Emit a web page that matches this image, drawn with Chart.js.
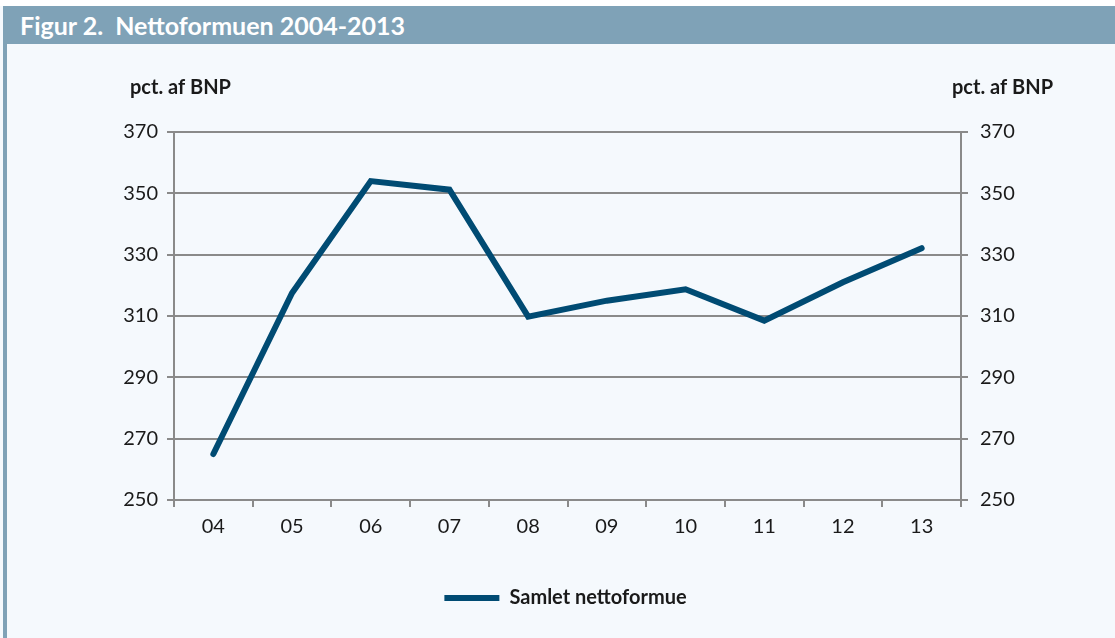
<!DOCTYPE html>
<html>
<head>
<meta charset="utf-8">
<script src="https://cdn.jsdelivr.net/npm/chart.js@4.4.1/dist/chart.umd.min.js"></script>
<style>
  html, body { margin: 0; padding: 0; }
  body { width: 1115px; height: 638px; background: #f5f9fd; position: relative; overflow: hidden; }
  #topStrip { position: absolute; left: 0; top: 0; width: 1115px; height: 6px; background: #ffffff; }
  #header {
    position: absolute; left: 3px; top: 6px; width: 1112px; height: 38px;
    background: #7fa2b7; color: #ffffff;
    font-family: Lato, sans-serif; font-weight: bold; font-size: 25px;
    line-height: 38px; padding-left: 17px; box-sizing: border-box; white-space: pre;
  }
  #leftBar { position: absolute; left: 3px; top: 44px; width: 4px; height: 594px; background: #7fa2b7; }
  #wrap { position: absolute; left: 0; top: 0; width: 1115px; height: 638px; }
</style>
</head>
<body>
<div id="topStrip"></div>
<div id="header">Figur 2.  Nettoformuen 2004-2013</div>
<div id="leftBar"></div>
<div id="wrap"><canvas id="lineGraph" width="1115" height="638"></canvas></div>
<script>
const years = ['04', '05', '06', '07', '08', '09', '10', '11', '12', '13'];
const nettoformue = [265, 317.5, 354, 351.2, 309.8, 315, 318.7, 308.5, 321, 332.1];
const yTicks = [250, 270, 290, 310, 330, 350, 370];
const seriesName = 'Samlet nettoformue';
const axisTitle = 'pct. af BNP';

const gridColor = '#8a8a8a';
const textColor = '#1a1a1a';

// "pct. af BNP" over both y axes
const axisTitles = {
    id: 'axisTitles',
    afterDraw: (chart) => {
        const ctx = chart.ctx;
        const area = chart.chartArea;
        ctx.save();
        ctx.fillStyle = textColor;
        ctx.font = 'bold 20px Lato, sans-serif';
        ctx.textBaseline = 'middle';
        ctx.textAlign = 'right';
        ctx.fillText(axisTitle, area.left + 57, area.top - 44);
        ctx.textAlign = 'left';
        ctx.fillText(axisTitle, area.right - 9, area.top - 44);
        ctx.restore();
    }
};

const ctx = document.getElementById('lineGraph').getContext('2d');
const chart = new Chart(ctx, {
    type: 'line',
    data: {
        labels: years,
        datasets: [{
            label: seriesName,
            data: nettoformue,
            borderColor: '#004b73',
            backgroundColor: '#004b73',
            borderWidth: 6,
            borderCapStyle: 'round',
            borderJoinStyle: 'miter',
            tension: 0,
            pointRadius: 0,
            yAxisID: 'y'
        }]
    },
    options: {
        responsive: false,
        animation: false,
        layout: { padding: { top: 132, bottom: 20, left: 16, right: 0 } },
        scales: {
            x: {
                offset: true,
                grid: { display: true, offset: true, drawOnChartArea: false, drawTicks: true, tickLength: 7, color: gridColor, lineWidth: 2 },
                border: { display: true, color: gridColor, width: 2 },
                ticks: { color: textColor, font: { family: 'Lato, sans-serif', size: 20 }, padding: 8, maxRotation: 0 },
                afterFit: (scale) => { scale.height = 78; }
            },
            y: {
                position: 'left',
                min: 250, max: 370,
                afterBuildTicks: (scale) => { scale.ticks = yTicks.map(v => ({ value: v })); },
                grid: { color: gridColor, lineWidth: 2, tickLength: 7 },
                border: { display: true, color: gridColor, width: 2 },
                ticks: { color: textColor, font: { family: 'Lato, sans-serif', size: 20 }, padding: 9 },
                afterFit: (scale) => { scale.width = 158; }
            },
            y2: {
                position: 'right',
                min: 250, max: 370,
                afterBuildTicks: (scale) => { scale.ticks = yTicks.map(v => ({ value: v })); },
                grid: { drawOnChartArea: false, color: gridColor, lineWidth: 2, tickLength: 7 },
                border: { display: true, color: gridColor, width: 2 },
                ticks: { color: textColor, font: { family: 'Lato, sans-serif', size: 20 }, padding: 12 },
                afterFit: (scale) => { scale.width = 154; }
            }
        },
        plugins: {
            legend: {
                position: 'bottom',
                labels: {
                    usePointStyle: true,
                    pointStyle: 'line',
                    pointStyleWidth: 55,
                    boxHeight: 6,
                    color: textColor,
                    font: { family: 'Lato, sans-serif', size: 20, weight: 'bold' },
                    padding: 10
                }
            },
            tooltip: { enabled: false }
        }
    },
    plugins: [axisTitles]
});
</script>
</body>
</html>
